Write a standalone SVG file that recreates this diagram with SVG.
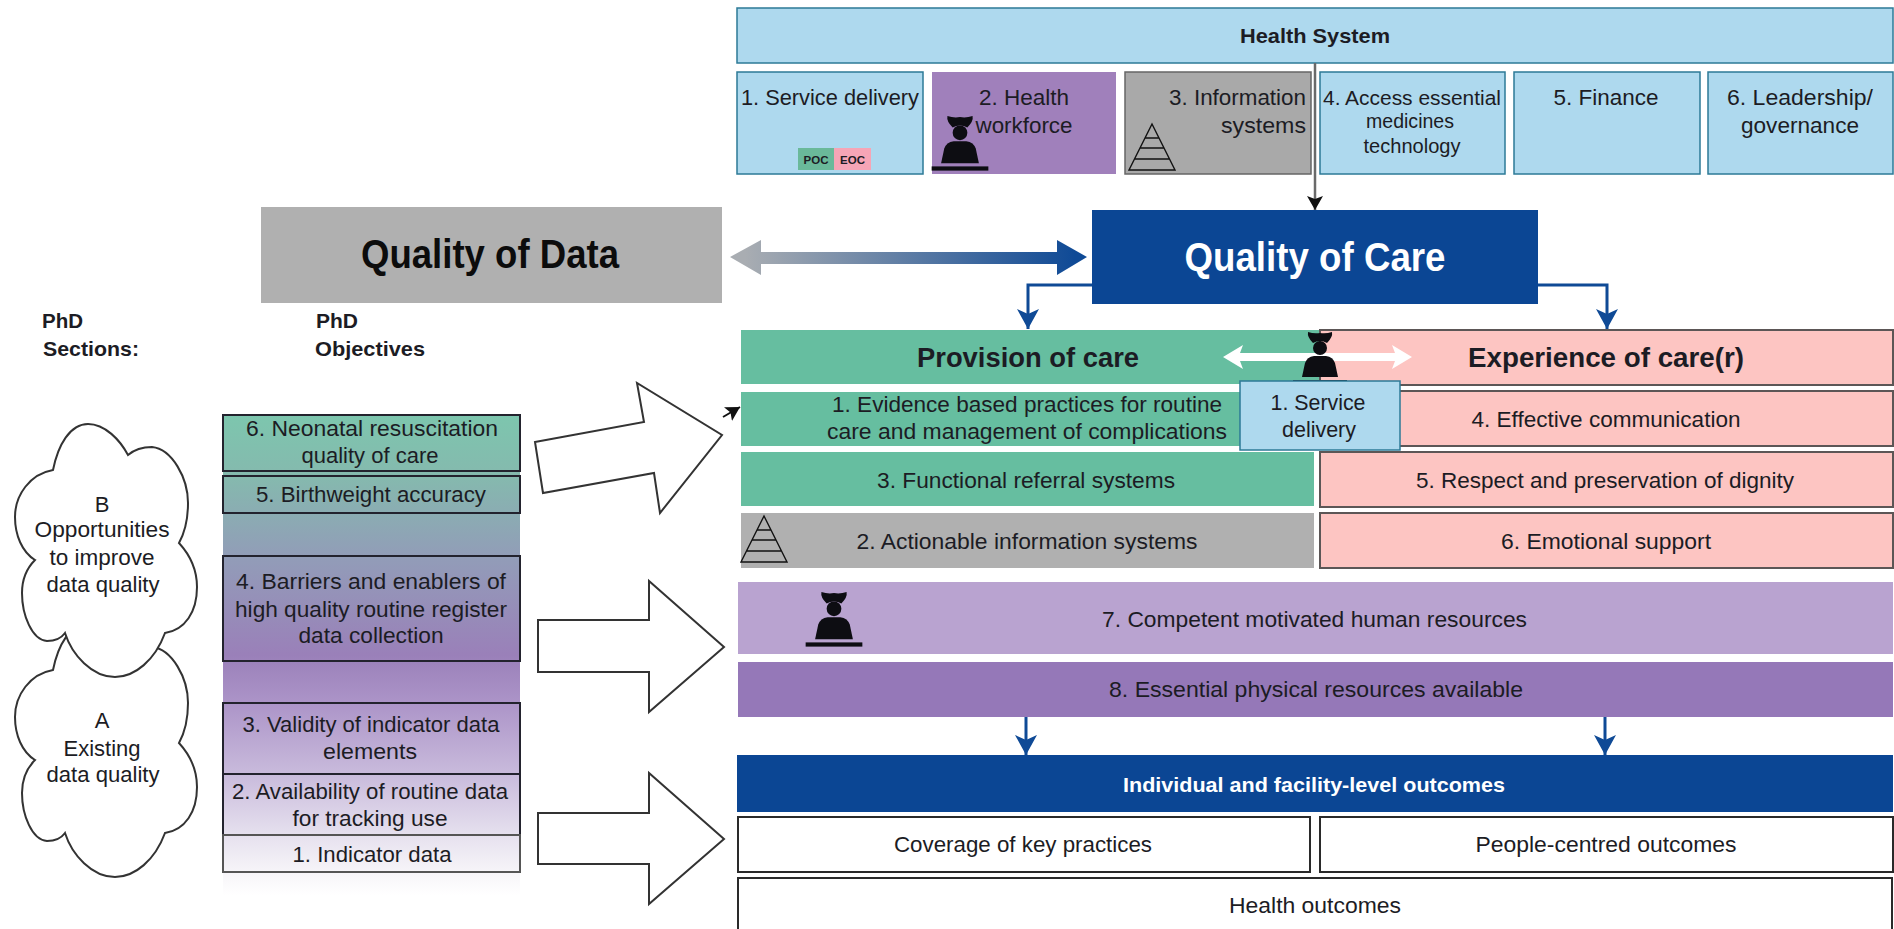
<svg xmlns="http://www.w3.org/2000/svg" xmlns:xlink="http://www.w3.org/1999/xlink" width="1894" height="929" viewBox="0 0 1894 929">
<style>
text{font-family:"Liberation Sans",Arial,sans-serif;font-size:22px;fill:#1c1c24;text-anchor:middle}
.b{font-weight:bold}
.hs{fill:#aed9ee;stroke:#2c7a97;stroke-width:1.5}
.gr{fill:#66bea0}
.pk{fill:#fdc5c2;stroke:#5c5656;stroke-width:2}
.wh{fill:#fff;stroke:#2a2a2a;stroke-width:2}
.ob{fill:none;stroke:#23232e;stroke-width:2}
.big{fill:#fff;stroke:#333;stroke-width:2}
.cl{fill:#fff;stroke:#333;stroke-width:2}
.bl{fill:none;stroke:#0f4a96;stroke-width:3}
</style>
<defs>
<linearGradient id="objG" gradientUnits="userSpaceOnUse" x1="0" y1="415" x2="0" y2="895">
<stop offset="0" stop-color="#7dc6ae"/>
<stop offset="0.13" stop-color="#85b9ae"/>
<stop offset="0.3" stop-color="#929cb8"/>
<stop offset="0.5" stop-color="#9a80b9"/>
<stop offset="0.6" stop-color="#ac94c8"/>
<stop offset="0.75" stop-color="#c9bbdc"/>
<stop offset="0.88" stop-color="#e7e2ef"/>
<stop offset="0.95" stop-color="#f6f4f8"/>
<stop offset="1" stop-color="#fff"/>
</linearGradient>
<linearGradient id="dbl" gradientUnits="userSpaceOnUse" x1="745" y1="0" x2="1075" y2="0">
<stop offset="0" stop-color="#a9adb2"/>
<stop offset="1" stop-color="#0f4a96"/>
</linearGradient>
<marker id="blueHead" markerUnits="userSpaceOnUse" markerWidth="24" markerHeight="22" refX="20" refY="11" orient="auto">
<path d="M0 0L20 11L0 22L5 11Z" fill="#0f4a96"/>
</marker>
<marker id="blackHead" markerUnits="userSpaceOnUse" markerWidth="16" markerHeight="16" refX="14" refY="8" orient="auto">
<path d="M0 0L14 8L0 16L3 8Z" fill="#111"/>
</marker>
<symbol id="nurse" overflow="visible">
<path d="M-12 0Q-6 2 0 1Q6 2 12 0Q13 5 7 11Q0 7-7 11Q-13 5-12 0Z" fill="#0d0d12"/>
<circle cx="0" cy="16" r="7" fill="#0d0d12"/>
<path d="M-6 24H6Q13 25 15 31L18 45H-18L-15 31Q-13 25-6 24Z" fill="#0d0d12"/>
<rect x="-27" y="48" width="54" height="4" fill="#0d0d12"/>
</symbol>
<symbol id="pyr" overflow="visible">
<path d="M23 0L0 46H46Z M16 14H30 M11 24H35 M6 35H40" fill="none" stroke="#111" stroke-width="1.4"/>
</symbol>
<path id="cloud" d="M35 560C22 552 15 535 15 517C15 495 30 474 53 470C58 445 70 424 88 424C105 424 120 440 128 455C135 449 143 447 152 447C172 449 188 478 188 503C188 520 185 532 179 543C190 555 197 570 197 587C197 612 185 630 165 633C155 660 135 677 115 677C92 677 72 655 65 633C60 640 52 641 47 641C32 640 22 615 22 593C22 580 27 568 35 560Z"/>
</defs>

<g id="node-health-system"><rect class="hs" x="737" y="8" width="1156" height="55"/><text class="b" x="1315" y="43" style="font-size:21px" textLength="150" lengthAdjust="spacingAndGlyphs">Health System</text></g>
<g id="node-service-delivery"><rect class="hs" x="737" y="72" width="186" height="102"/><text x="830" y="105" textLength="178" lengthAdjust="spacingAndGlyphs">1. Service delivery</text>
<rect x="798" y="148" width="36" height="22" fill="#6ab99a"/><rect x="834" y="148" width="37" height="22" fill="#f6a5b6"/>
<text class="b" x="816" y="164" style="font-size:11.5px">POC</text><text class="b" x="852.500" y="164" style="font-size:11.5px">EOC</text></g>
<g id="node-health-workforce"><rect x="932" y="72" width="184" height="102" fill="#a080bb"/><text x="1024" y="105" textLength="90" lengthAdjust="spacingAndGlyphs">2. Health</text><text x="1024" y="133" textLength="97" lengthAdjust="spacingAndGlyphs">workforce</text><use href="#nurse" xlink:href="#nurse" transform="translate(960 116) scale(1.05)"/></g>
<g id="node-information-systems"><rect x="1125" y="72" width="186" height="102" fill="#a9a9a9" stroke="#666" stroke-width="1.500"/><text x="1306" y="105" style="text-anchor:end" textLength="137" lengthAdjust="spacingAndGlyphs">3. Information</text><text x="1306" y="133" style="text-anchor:end" textLength="85" lengthAdjust="spacingAndGlyphs">systems</text><use href="#pyr" xlink:href="#pyr" transform="translate(1129 124)"/></g>
<g id="node-essential-medicines"><rect class="hs" x="1320" y="72" width="185" height="102"/><text x="1412" y="105" style="font-size:20.5px" textLength="178" lengthAdjust="spacingAndGlyphs">4. Access essential</text><text x="1410" y="128" style="font-size:19.5px" textLength="88" lengthAdjust="spacingAndGlyphs">medicines</text><text x="1412" y="153" style="font-size:19.5px" textLength="97" lengthAdjust="spacingAndGlyphs">technology</text></g>
<g id="node-finance"><rect class="hs" x="1514" y="72" width="186" height="102"/><text x="1606" y="105" textLength="105" lengthAdjust="spacingAndGlyphs">5. Finance</text></g>
<g id="node-leadership"><rect class="hs" x="1708" y="72" width="185" height="102"/><text x="1800" y="105" textLength="146" lengthAdjust="spacingAndGlyphs">6. Leadership/</text><text x="1800" y="133" textLength="118" lengthAdjust="spacingAndGlyphs">governance</text></g>

<g id="node-quality-of-data"><rect x="261" y="207" width="461" height="96" fill="#b0b0b0"/><text class="b" x="490" y="268" style="font-size:40px;fill:#0c0c0c" textLength="258" lengthAdjust="spacingAndGlyphs">Quality of Data</text></g>
<g id="node-quality-of-care"><rect x="1092" y="210" width="446" height="94" fill="#0b4694"/><text class="b" x="1315" y="271" style="font-size:40px;fill:#fff" textLength="261" lengthAdjust="spacingAndGlyphs">Quality of Care</text></g>

<g id="label-phd-sections"><text class="b" x="42" y="328" style="font-size:21px;text-anchor:start" textLength="41" lengthAdjust="spacingAndGlyphs">PhD</text><text class="b" x="43" y="356" style="font-size:21px;text-anchor:start" textLength="96" lengthAdjust="spacingAndGlyphs">Sections:</text></g>
<g id="label-phd-objectives"><text class="b" x="316" y="328" style="font-size:21px;text-anchor:start" textLength="42" lengthAdjust="spacingAndGlyphs">PhD</text><text class="b" x="315" y="356" style="font-size:21px;text-anchor:start" textLength="110" lengthAdjust="spacingAndGlyphs">Objectives</text></g>

<g id="node-cloud-a"><use href="#cloud" xlink:href="#cloud" class="cl" transform="translate(0 200)"/><text x="102" y="728">A</text><text x="102" y="756" textLength="77" lengthAdjust="spacingAndGlyphs">Existing</text><text x="103" y="782" textLength="113" lengthAdjust="spacingAndGlyphs">data quality</text></g>
<g id="node-cloud-b"><use href="#cloud" xlink:href="#cloud" class="cl"/><text x="102" y="512">B</text><text x="102" y="537" textLength="135" lengthAdjust="spacingAndGlyphs">Opportunities</text><text x="102" y="565" textLength="105" lengthAdjust="spacingAndGlyphs">to improve</text><text x="103" y="592" textLength="113" lengthAdjust="spacingAndGlyphs">data quality</text></g>

<g id="objectives-band"><rect x="223" y="415" width="297" height="480" fill="url(#objG)"/></g>
<g id="node-objective-6"><rect class="ob" x="223" y="415" width="297" height="56"/><text x="372" y="436" textLength="252" lengthAdjust="spacingAndGlyphs">6. Neonatal resuscitation</text><text x="370" y="463" textLength="137" lengthAdjust="spacingAndGlyphs">quality of care</text></g>
<g id="node-objective-5"><rect class="ob" x="223" y="476" width="297" height="37"/><text x="371" y="502" textLength="230" lengthAdjust="spacingAndGlyphs">5. Birthweight accuracy</text></g>
<g id="node-objective-4"><rect class="ob" x="223" y="556" width="297" height="105"/><text x="371" y="589" textLength="270" lengthAdjust="spacingAndGlyphs">4. Barriers and enablers of</text><text x="371" y="617" textLength="272" lengthAdjust="spacingAndGlyphs">high quality routine register</text><text x="371" y="643" textLength="145" lengthAdjust="spacingAndGlyphs">data collection</text></g>
<g id="node-objective-3"><rect class="ob" x="223" y="703" width="297" height="71"/><text x="371" y="732" textLength="257" lengthAdjust="spacingAndGlyphs">3. Validity of indicator data</text><text x="370" y="759" textLength="94" lengthAdjust="spacingAndGlyphs">elements</text></g>
<g id="node-objective-2"><rect class="ob" x="223" y="774" width="297" height="61"/><text x="370" y="799" textLength="276" lengthAdjust="spacingAndGlyphs">2. Availability of routine data</text><text x="370" y="826" textLength="155" lengthAdjust="spacingAndGlyphs">for tracking use</text></g>
<g id="node-objective-1"><rect class="ob" x="223" y="835" width="297" height="37" style="stroke:#555"/><text x="372" y="862" textLength="159" lengthAdjust="spacingAndGlyphs">1. Indicator data</text></g>

<g id="node-provision"><rect class="gr" x="741" y="330" width="578" height="54"/><text class="b" x="1028" y="367" style="font-size:27px" textLength="222" lengthAdjust="spacingAndGlyphs">Provision of care</text></g>
<g id="node-experience"><rect class="pk" x="1320" y="330" width="573" height="55"/><text class="b" x="1606" y="367" style="font-size:27px" textLength="276" lengthAdjust="spacingAndGlyphs">Experience of care(r)</text></g>
<g id="node-evidence"><rect class="gr" x="741" y="392" width="578" height="54"/><text x="1027" y="412" textLength="390" lengthAdjust="spacingAndGlyphs">1. Evidence based practices for routine</text><text x="1027" y="439" textLength="400" lengthAdjust="spacingAndGlyphs">care and management of complications</text></g>
<g id="node-referral"><rect class="gr" x="741" y="452" width="573" height="54"/><text x="1026" y="488" textLength="298" lengthAdjust="spacingAndGlyphs">3. Functional referral systems</text></g>
<g id="node-actionable"><rect x="741" y="513" width="573" height="55" fill="#b0b0b0"/><text x="1027" y="549" textLength="341" lengthAdjust="spacingAndGlyphs">2. Actionable information systems</text><use href="#pyr" xlink:href="#pyr" transform="translate(741 516)"/></g>
<g id="node-communication"><rect class="pk" x="1320" y="391" width="573" height="55"/><text x="1606" y="427" textLength="269" lengthAdjust="spacingAndGlyphs">4. Effective communication</text></g>
<g id="node-dignity"><rect class="pk" x="1320" y="452" width="573" height="55"/><text x="1605" y="488" textLength="378" lengthAdjust="spacingAndGlyphs">5. Respect and preservation of dignity</text></g>
<g id="node-emotional"><rect class="pk" x="1320" y="513" width="573" height="55"/><text x="1606" y="549" textLength="210" lengthAdjust="spacingAndGlyphs">6. Emotional support</text></g>
<g id="node-human-resources"><rect x="738" y="582" width="1155" height="72" fill="#b9a3d0"/><text x="1314.500" y="627" textLength="425" lengthAdjust="spacingAndGlyphs">7. Competent motivated human resources</text><use href="#nurse" xlink:href="#nurse" transform="translate(834 592) scale(1.05)"/></g>
<g id="node-physical-resources"><rect x="738" y="662" width="1155" height="55" fill="#9578b8"/><text x="1316" y="697" textLength="414" lengthAdjust="spacingAndGlyphs">8. Essential physical resources available</text></g>
<g id="node-outcomes"><rect x="737" y="755" width="1156" height="57" fill="#0b4694"/><text class="b" x="1314" y="792" style="font-size:21px;fill:#fff" textLength="382" lengthAdjust="spacingAndGlyphs">Individual and facility-level outcomes</text></g>
<g id="node-coverage"><rect class="wh" x="738" y="817" width="572" height="55"/><text x="1023" y="852" textLength="258" lengthAdjust="spacingAndGlyphs">Coverage of key practices</text></g>
<g id="node-people"><rect class="wh" x="1320" y="817" width="573" height="55"/><text x="1606" y="852" textLength="261" lengthAdjust="spacingAndGlyphs">People-centred outcomes</text></g>
<g id="node-health-outcomes"><rect class="wh" x="738" y="878" width="1154" height="60"/><text x="1315" y="913" textLength="172" lengthAdjust="spacingAndGlyphs">Health outcomes</text></g>

<g id="connectors">
<path d="M1315 63V210" fill="none" stroke="#6a6a6a" stroke-width="2.500" marker-end="url(#blackHead)"/>
<path d="M730 257L761 240V252H1057V240L1087 257L1057 275V264H761V275Z" fill="url(#dbl)"/>
<path class="bl" d="M1092 285H1028V329" marker-end="url(#blueHead)"/>
<path class="bl" d="M1538 285H1607V329" marker-end="url(#blueHead)"/>
<path class="bl" d="M1026 717V755" marker-end="url(#blueHead)"/>
<path class="bl" d="M1605 717V755" marker-end="url(#blueHead)"/>
<polygon class="big" points="535,442 644,422 637,383 722,435 660,513 654,473 543,493"/>
<polygon class="big" points="538,620 649,620 649,581 724,647 649,712 649,672 538,672"/>
<polygon class="big" points="538,813 649,813 649,773 724,839 649,904 649,864 538,864"/>
<path d="M723 417L740 407" fill="none" stroke="#111" stroke-width="2" marker-end="url(#blackHead)"/>
<path d="M1223 357L1243 345L1240 353H1395L1392 345L1412 357L1392 369L1395 361H1240L1243 369Z" fill="#fff"/>
</g>

<g id="node-service-delivery-overlay"><use href="#nurse" xlink:href="#nurse" transform="translate(1320 332)"/><rect class="hs" x="1240" y="381" width="160" height="69"/><text x="1318" y="410" textLength="95" lengthAdjust="spacingAndGlyphs">1. Service</text><text x="1319" y="437" textLength="74" lengthAdjust="spacingAndGlyphs">delivery</text></g>
</svg>
